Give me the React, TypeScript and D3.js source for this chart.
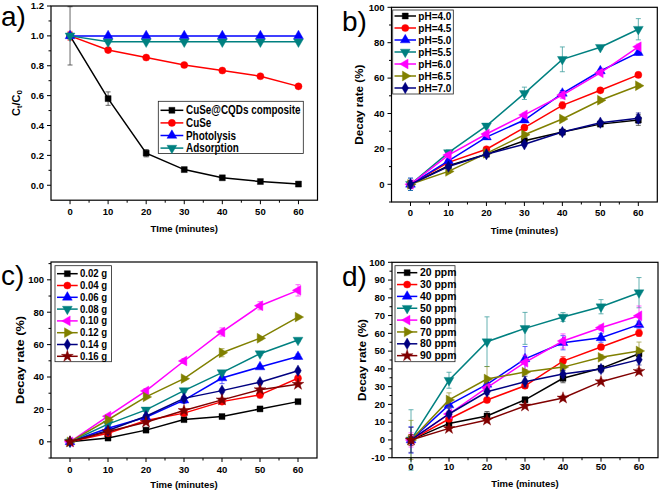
import React from 'react';
import * as d3 from 'd3';

// ---------- data ----------
const timeMinutes = [0, 10, 20, 30, 40, 50, 60];
const xTickValues = [0, 10, 20, 30, 40, 50, 60];
const xMinorValues = [5, 15, 25, 35, 45, 55];

// panel a (Ct/C0)
const aCompositeVals = [1.0, 0.58, 0.215, 0.105, 0.05, 0.025, 0.008];
const aCompositeErr = [0.195, 0.045, 0.025, 0.008, 0.006, 0.005, 0.004];
const aCuSeVals = [1.0, 0.905, 0.855, 0.805, 0.768, 0.73, 0.662];
const aCuSeErr = [0.03, 0.01, 0.01, 0.01, 0.008, 0.008, 0.01];
const aPhotolysisVals = [1, 1, 1, 1, 1, 1, 1];
const aAdsorptionVals = [1, 0.96, 0.96, 0.96, 0.96, 0.96, 0.96];
const zeroErr = [0, 0, 0, 0, 0, 0, 0];
const aNames = ['CuSe@CQDs composite', 'CuSe', 'Photolysis', 'Adsorption'];
const aYTicks = [0, 0.2, 0.4, 0.6, 0.8, 1.0, 1.2];
const aYMinor = [0.1, 0.3, 0.5, 0.7, 0.9, 1.1];

// panel b (pH)
const bNames = ['pH=4.0', 'pH=4.5', 'pH=5.0', 'pH=5.5', 'pH=6.0', 'pH=6.5', 'pH=7.0'];
const bPH40 = [0, 10.5, 17, 24.6, 29.5, 34, 36.3];
const bPH45 = [0, 12.4, 19.8, 32, 44.6, 53.1, 61.8];
const bPH50 = [0, 13.2, 26.7, 36.3, 51.4, 64, 74.4];
const bPH55 = [0, 17.9, 33, 51.4, 70.6, 77.4, 87.6];
const bPH60 = [0, 16.5, 28.4, 39.2, 50.4, 63, 77.7];
const bPH65 = [0, 7.3, 17.5, 28, 36.9, 47.5, 55.7];
const bPH70 = [0, 10, 17, 22.6, 29.5, 34.8, 37.3];
const bErr40 = [2, 1, 1, 1.5, 1.5, 1, 3];
const bErr45 = [2, 1, 1, 1.5, 2, 1, 1.5];
const bErr50 = [3.5, 1, 1, 1.5, 1.5, 1, 1.5];
const bErr55 = [3.5, 1.5, 1, 3.5, 7, 1, 6];
const bErr60 = [2, 1, 1, 1, 2, 1, 1.5];
const bErr65 = [1, 1, 1, 1, 1, 1, 1];
const bErr70 = [2, 1, 1, 1, 1, 1, 3];
const bYTicks = [0, 20, 40, 60, 80, 100];
const bYMinor = [-10, 10, 30, 50, 70, 90];

// panel c (dosage)
const cNames = ['0.02 g', '0.04 g', '0.06 g', '0.08 g', '0.10 g', '0.12 g', '0.14 g', '0.16 g'];
const c002 = [0, 2.3, 7.2, 13.7, 15.6, 20.3, 24.8];
const c004 = [0, 5.3, 13.1, 17.7, 24.8, 29, 39.2];
const c006 = [0, 8.4, 15.2, 25.7, 39.4, 46.2, 52.6];
const c008 = [0, 10.9, 19.7, 31.6, 42.7, 54.4, 62.8];
const c010 = [0, 15.8, 31.4, 49.9, 67.8, 84, 93.5];
const c012 = [0, 13.6, 27.7, 39, 55, 63.9, 77];
const c014 = [0, 7, 15.8, 26.8, 31.6, 36.8, 43.9];
const c016 = [0, 6.3, 12.1, 19.3, 25.9, 32.2, 35.5];
const cErr002 = [0.8, 0.8, 0.8, 0.8, 0.8, 0.8, 0.8];
const cErr004 = [1, 1, 1, 1.5, 1.5, 2, 2];
const cErr006 = [1, 1, 1, 2, 3.5, 1, 1.5];
const cErr008 = [1, 1, 1, 1, 1, 1, 1];
const cErr010 = [1, 1, 1.5, 1.5, 2.5, 2.5, 3.5];
const cErr012 = [1, 1, 1, 1, 2.5, 1, 1];
const cErr014 = [1, 1, 1, 1, 1, 1, 1];
const cErr016 = [1, 1, 1, 1, 1, 1, 1];
const cYTicks = [0, 20, 40, 60, 80, 100];
const cYMinor = [-10, 10, 30, 50, 70, 90, 110];

// panel d (concentration)
const dNames = ['20 ppm', '30 ppm', '40 ppm', '50 ppm', '60 ppm', '70 ppm', '80 ppm', '90 ppm'];
const d20 = [0, 9.3, 13.5, 22.6, 34.7, 40.3, 48.5];
const d30 = [0, 11.8, 22.5, 30.5, 44.4, 52.3, 60.2];
const d40 = [0, 19.7, 31.3, 45.6, 54.7, 57.5, 64.9];
const d50 = [0, 33.6, 55.3, 62.8, 69.2, 75, 82.9];
const d60 = [0, 14.6, 29.4, 43.7, 55.7, 63.2, 69.9];
const d70 = [0, 22.5, 34.3, 38.2, 41, 46.5, 50.1];
const d80 = [0, 14.6, 27.1, 32.8, 37.1, 39.9, 45.2];
const d90 = [0, 6.5, 11.2, 19.1, 23.6, 32.8, 38.6];
const dErr20 = [3, 1.5, 2.5, 1.5, 2.5, 1.5, 2];
const dErr30 = [3, 1.5, 1.5, 1.5, 2.5, 1.5, 2];
const dErr40 = [7.5, 2, 2, 7, 4, 2.5, 2];
const dErr50 = [17, 4.5, 14, 9, 2.5, 4, 8.5];
const dErr60 = [4, 1.5, 1.5, 4, 4, 1.5, 5.5];
const dErr70 = [11, 4, 7, 1.5, 1.5, 1.5, 5];
const dErr80 = [7, 1.5, 1.5, 3, 2, 2, 3];
const dErr90 = [2, 1, 1.5, 1, 1.5, 1, 1.5];
const dYTicks = [-10, 0, 10, 20, 30, 40, 50, 60, 70, 80, 90, 100];
const dYMinor = [-5, 5, 15, 25, 35, 45, 55, 65, 75, 85, 95];

// ---------- styles ----------
const palette = ['#000000', '#ff0000', '#0000ff', '#008080', '#ff00ff', '#808000', '#000080', '#800000'];
const symbols = ['square', 'circle', 'up', 'down', 'left', 'right', 'diamond', 'star'];
const FONT = '"Liberation Sans", Arial, Helvetica, sans-serif';

type Series = { name: string; color: string; sym: string; values: number[]; errors: number[] };

function makeSeries(names: string[], vals: number[][], errs: number[][], syms = symbols, cols = palette): Series[] {
  return names.map((n, i) => ({ name: n, color: cols[i], sym: syms[i], values: vals[i], errors: errs[i] }));
}

function Marker({ sym, color, x, y }: { sym: string; color: string; x: number; y: number }) {
  let type: any = d3.symbolSquare;
  let rot = 0;
  let size = 30;
  switch (sym) {
    case 'square': type = d3.symbolSquare; size = 36; break;
    case 'circle': type = d3.symbolCircle; size = 40; break;
    case 'up': type = d3.symbolTriangle; size = 42; break;
    case 'down': type = d3.symbolTriangle; size = 42; rot = 180; break;
    case 'left': type = d3.symbolTriangle; size = 42; rot = -90; break;
    case 'right': type = d3.symbolTriangle; size = 42; rot = 90; break;
    case 'diamond': type = d3.symbolDiamond; size = 38; break;
    case 'star': type = d3.symbolStar; size = 44; break;
  }
  const d = d3.symbol().type(type).size(size)() || '';
  return <path d={d} transform={`translate(${x},${y}) rotate(${rot})`} fill={color} stroke={color} strokeWidth={0.4} />;
}

type PanelProps = {
  frame: { left: number; right: number; top: number; bottom: number };
  yDomain: [number, number];
  yTicks: number[];
  yMinor: number[];
  yFormat: (v: number) => string;
  series: Series[];
  legend: { x0: number; x1: number; y0: number; y1: number; row0: number; step: number; lx0: number; lx1: number; tx: number; fs: number; sy: number };
  letter: { text: string; x: number; y: number };
  xTitle: { text: string; y: number };
  yTitle: { x: number; len: number; node: React.ReactNode };
  xLabelOffset: number;
};

function Panel(p: PanelProps) {
  const { frame, legend } = p;
  const x = d3.scaleLinear().domain([-5, 65]).range([frame.left, frame.right]);
  const y = d3.scaleLinear().domain(p.yDomain).range([frame.bottom, frame.top]);
  const line = d3.line<number>().x((_, i) => x(timeMinutes[i])).y((v) => y(v));
  const cx = (frame.left + frame.right) / 2;
  const cy = (frame.top + frame.bottom) / 2;
  return (
    <g>
      {p.series.map((s, si) => (
        <g key={si}>
          {s.values.map((v, i) => {
            const e = s.errors[i];
            if (!e) return null;
            const px = x(timeMinutes[i]);
            return (
              <g key={i} stroke={s.color} strokeWidth={0.8} opacity={0.75}>
                <line x1={px} x2={px} y1={y(v - e)} y2={y(v + e)} />
                <line x1={px - 2.5} x2={px + 2.5} y1={y(v - e)} y2={y(v - e)} />
                <line x1={px - 2.5} x2={px + 2.5} y1={y(v + e)} y2={y(v + e)} />
              </g>
            );
          })}
          <path d={line(s.values) || ''} fill="none" stroke={s.color} strokeWidth={1.5} />
          {s.values.map((v, i) => (
            <Marker key={i} sym={s.sym} color={s.color} x={x(timeMinutes[i])} y={y(v)} />
          ))}
        </g>
      ))}
      <rect x={frame.left} y={frame.top} width={frame.right - frame.left} height={frame.bottom - frame.top} fill="none" stroke="#000" strokeWidth={1.2} />
      {xTickValues.map((t) => (
        <g key={'xt' + t}>
          <line x1={x(t)} x2={x(t)} y1={frame.bottom} y2={frame.bottom + 4} stroke="#000" strokeWidth={1} />
          <text x={x(t)} y={frame.bottom + p.xLabelOffset} textAnchor="middle" fontSize={9.5} fontWeight="bold" fontFamily={FONT}>{t}</text>
        </g>
      ))}
      {xMinorValues.map((t) => (
        <line key={'xm' + t} x1={x(t)} x2={x(t)} y1={frame.bottom} y2={frame.bottom + 2.5} stroke="#000" strokeWidth={1} />
      ))}
      {p.yTicks.map((t) => (
        <g key={'yt' + t}>
          <line x1={frame.left - 4} x2={frame.left} y1={y(t)} y2={y(t)} stroke="#000" strokeWidth={1} />
          <text x={frame.left - 7} y={y(t)} dy="0.35em" textAnchor="end" fontSize={9.5} fontWeight="bold" fontFamily={FONT}>{p.yFormat(t)}</text>
        </g>
      ))}
      {p.yMinor.map((t) => (
        <line key={'ym' + t} x1={frame.left - 2.5} x2={frame.left} y1={y(t)} y2={y(t)} stroke="#000" strokeWidth={1} />
      ))}
      <text x={cx} y={p.xTitle.y} textAnchor="middle" fontSize={9.5} fontWeight="bold" fontFamily={FONT}>{p.xTitle.text}</text>
      <text transform={`translate(${p.yTitle.x},${cy}) rotate(-90)`} textAnchor="middle" dy="0.35em" fontSize={11} fontWeight="bold" fontFamily={FONT} textLength={p.yTitle.len} lengthAdjust="spacingAndGlyphs">{p.yTitle.node}</text>
      <text x={p.letter.x} y={p.letter.y} fontSize={28} fontFamily={FONT}>{p.letter.text}</text>
      <rect x={legend.x0} y={legend.y0} width={legend.x1 - legend.x0} height={legend.y1 - legend.y0} fill="#fff" stroke="#222" strokeWidth={0.8} />
      {p.series.map((s, i) => {
        const ry = legend.row0 + i * legend.step;
        return (
          <g key={'lg' + i}>
            <line x1={legend.lx0} x2={legend.lx1} y1={ry} y2={ry} stroke={s.color} strokeWidth={1.5} />
            <Marker sym={s.sym} color={s.color} x={(legend.lx0 + legend.lx1) / 2} y={ry} />
            <text transform={`translate(${legend.tx},${ry}) scale(1,${legend.sy})`} dy="0.35em" fontSize={legend.fs} fontWeight="bold" fontFamily={FONT}>{s.name}</text>
          </g>
        );
      })}
    </g>
  );
}

export default function App() {
  const aSeries = makeSeries(
    aNames,
    [aCompositeVals, aCuSeVals, aPhotolysisVals, aAdsorptionVals],
    [aCompositeErr, aCuSeErr, zeroErr, zeroErr]
  );
  const bSeries = makeSeries(bNames, [bPH40, bPH45, bPH50, bPH55, bPH60, bPH65, bPH70], [bErr40, bErr45, bErr50, bErr55, bErr60, bErr65, bErr70]);
  const cSeries = makeSeries(cNames, [c002, c004, c006, c008, c010, c012, c014, c016], [cErr002, cErr004, cErr006, cErr008, cErr010, cErr012, cErr014, cErr016]);
  const dSeries = makeSeries(dNames, [d20, d30, d40, d50, d60, d70, d80, d90], [dErr20, dErr30, dErr40, dErr50, dErr60, dErr70, dErr80, dErr90]);
  const fmt1 = d3.format('.1f');
  const fmt0 = (v: number) => String(v);
  return (
    <svg width={661} height={493} style={{ position: 'absolute', left: 0, top: 0, background: '#fff' }}>
      <Panel
        frame={{ left: 51, right: 317.5, top: 6, bottom: 200.2 }}
        yDomain={[-0.1, 1.2]}
        yTicks={aYTicks}
        yMinor={aYMinor}
        yFormat={fmt1}
        series={aSeries}
        legend={{ x0: 158.3, x1: 303.3, y0: 101.3, y1: 153.5, row0: 110.3, step: 12.6, lx0: 160.5, lx1: 183.3, tx: 186, fs: 9.9, sy: 1.2 }}
        letter={{ text: 'a)', x: 1, y: 26 }}
        xTitle={{ text: 'TIme (minutes)', y: 231.5 }}
        yTitle={{ x: 16, len: 26, node: (<>C<tspan fontSize={8} dy={2}>t</tspan><tspan dy={-2}>/C</tspan><tspan fontSize={8} dy={2}>0</tspan></>) }}
        xLabelOffset={15}
      />
      <Panel
        frame={{ left: 391.5, right: 657.3, top: 7.3, bottom: 202 }}
        yDomain={[-10, 100]}
        yTicks={bYTicks}
        yMinor={bYMinor}
        yFormat={fmt0}
        series={bSeries}
        legend={{ x0: 392.7, x1: 453.3, y0: 10, y1: 94, row0: 16, step: 12, lx0: 394.5, lx1: 416, tx: 418.3, fs: 10, sy: 1 }}
        letter={{ text: 'b)', x: 342, y: 30.5 }}
        xTitle={{ text: 'Time (minutes)', y: 233.5 }}
        yTitle={{ x: 359.5, len: 80, node: 'Decay rate (%)' }}
        xLabelOffset={13.5}
      />
      <Panel
        frame={{ left: 51, right: 317, top: 262, bottom: 458 }}
        yDomain={[-10, 111]}
        yTicks={cYTicks}
        yMinor={cYMinor}
        yFormat={fmt0}
        series={cSeries}
        legend={{ x0: 55, x1: 111.5, y0: 265.7, y1: 361.7, row0: 273.7, step: 11.8, lx0: 57, lx1: 77.7, tx: 80, fs: 9.6, sy: 1.05 }}
        letter={{ text: 'c)', x: 1, y: 285 }}
        xTitle={{ text: 'Time (minutes)', y: 488 }}
        yTitle={{ x: 20, len: 88, node: 'Decay rate (%)' }}
        xLabelOffset={15}
      />
      <Panel
        frame={{ left: 392, right: 658, top: 262.3, bottom: 457.7 }}
        yDomain={[-10, 100]}
        yTicks={dYTicks}
        yMinor={dYMinor}
        yFormat={fmt0}
        series={dSeries}
        legend={{ x0: 395, x1: 455, y0: 265.7, y1: 361.7, row0: 272.7, step: 11.85, lx0: 397, lx1: 417.3, tx: 420, fs: 10.4, sy: 1 }}
        letter={{ text: 'd)', x: 342, y: 286 }}
        xTitle={{ text: 'Time (minutes)', y: 487 }}
        yTitle={{ x: 362, len: 82, node: 'Decay rate (%)' }}
        xLabelOffset={12.5}
      />
    </svg>
  );
}
